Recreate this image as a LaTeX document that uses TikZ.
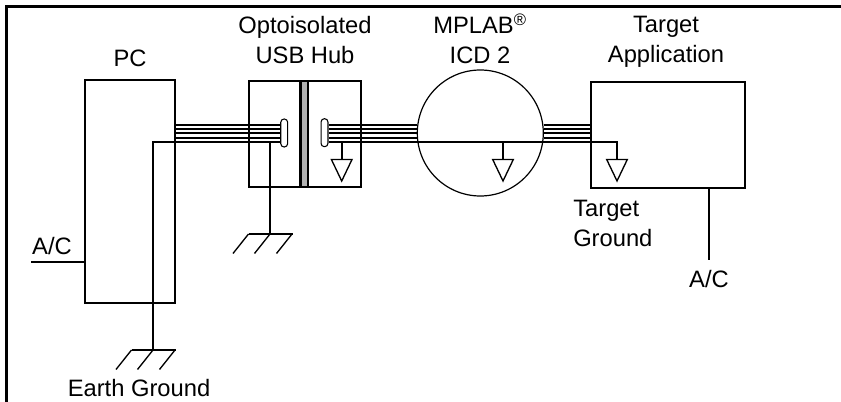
\documentclass[tikz,border=0pt]{standalone}
\usepackage{fontspec}
\setmainfont{Liberation Sans}
\usepackage{tikz}

\tikzset{
  wire/.style={line width=1.6pt},
  thinwire/.style={line width=1pt},
  box/.style={draw, line width=1.6pt, inner sep=0pt},
  lbl/.style={inner sep=0pt, align=center, font=\fontsize{17.8}{22.5}\selectfont},
  gnd/.pic={\draw[thinwire] (-10.3,0) -- (10.3,0) -- (0,21.5) -- cycle;},
  earth/.pic={
    \draw[wire] (-21.5,0) -- (23,0);
    \foreach \dx in {-21.5,0,22} \draw[thinwire] (\dx,0) -- ++(-15.5,19.5);
  }
}

\begin{document}
\begin{tikzpicture}[x=0.75pt, y=-0.75pt]
  \useasboundingbox (0,0) rectangle (841,402);

  % outer frame
  \coordinate (FrameA) at (6.5,402);
  \coordinate (FrameB) at (6.5,6.5);
  \coordinate (FrameC) at (841,6.5);
  \draw[wire] (FrameA) -- (FrameB) -- (FrameC);

  % boxes
  \node (PC) [box, minimum width=67.5pt, minimum height=167pt] at (130,191.5) {};
  \node (HubL) [box, minimum width=38.5pt, minimum height=79.5pt] at (274.5,134) {};
  \node (HubR) [box, minimum width=40pt, minimum height=79.5pt] at (334,134) {};
  \node (Bar) [box, fill=black!30, minimum width=5.2pt, minimum height=79.5pt] at (304.2,134) {};
  \node (ICD) [draw, circle, line width=0.9pt, inner sep=0pt, minimum size=94.5pt] at (480.3,133) {};
  \node (Target) [box, minimum width=115.5pt, minimum height=79.5pt] at (668,135) {};

  % connector ends
  \node (PlugL) [draw, line width=0.8pt, fill=white, rounded corners=2.5pt, inner sep=0pt, minimum width=5.2pt, minimum height=21pt] at (284.2,133) {};
  \node (PlugR) [draw, line width=0.8pt, fill=white, rounded corners=2.5pt, inner sep=0pt, minimum width=5.2pt, minimum height=21pt] at (324.5,132.7) {};

  % cable bundles
  \foreach \yy in {125,129.2,133.4,137.6} {
    \draw[wire] (PC.east |- 0,\yy) -- (PlugL.west |- 0,\yy);
    \draw[wire] (PlugR.east |- 0,\yy) -- (ICD.west |- 0,\yy);
    \draw[wire] (ICD.east |- 0,\yy) -- (Target.west |- 0,\yy);
  }

  % shield line and grounds
  \coordinate (EarthTop) at (153,141.8);
  \coordinate (EarthEnd) at (153,350);
  \coordinate (HubTap) at (270,141.8);
  \coordinate (HubEnd) at (270,234);
  \coordinate (HubRTap) at (341.7,141.8);
  \coordinate (HubREnd) at (341.7,159.5);
  \coordinate (ICDTap) at (503,141.8);
  \coordinate (ICDEnd) at (503,159.5);
  \coordinate (TargetTap) at (617,141.8);
  \coordinate (TargetEnd) at (617,159.5);

  \draw[wire] (EarthEnd) -- (EarthTop) -- (PlugL.west |- EarthTop);
  \draw[wire] (PlugR.east |- EarthTop) -- (TargetTap) -- (TargetEnd);
  \draw[wire] (HubTap) -- (HubEnd);
  \draw[wire] (HubRTap) -- (HubREnd);
  \draw[wire] (ICDTap) -- (ICDEnd);

  \pic at (EarthEnd) {earth};
  \pic at (HubEnd) {earth};
  \pic at (HubREnd) {gnd};
  \pic at (ICDEnd) {gnd};
  \pic at (TargetEnd) {gnd};

  % A/C feeds
  \coordinate (ACLeft) at (31,262);
  \coordinate (ACRight) at (709,260);
  \draw[wire] (ACLeft) -- (PC.west |- ACLeft);
  \draw[wire] (Target.south -| ACRight) -- (ACRight);

  % labels
  \node (LblPC) [lbl] at (130,58) {PC};
  \node (LblHub) [lbl] at (305,40) {Optoisolated\\USB Hub};
  \node (LblICD) [lbl] at (480,39) {MPLAB\textsuperscript{\textregistered}\\ICD 2};
  \node (LblTarget) [lbl] at (666,42) {Target\\Application};
  \node (LblGnd) [lbl, align=left, anchor=west] at (573,223) {Target\\Ground};
  \node (LblACL) [lbl] at (52,246) {A/C};
  \node (LblACR) [lbl] at (709,279) {A/C};
  \node (LblEarth) [lbl] at (139,388) {Earth Ground};
\end{tikzpicture}
\end{document}
